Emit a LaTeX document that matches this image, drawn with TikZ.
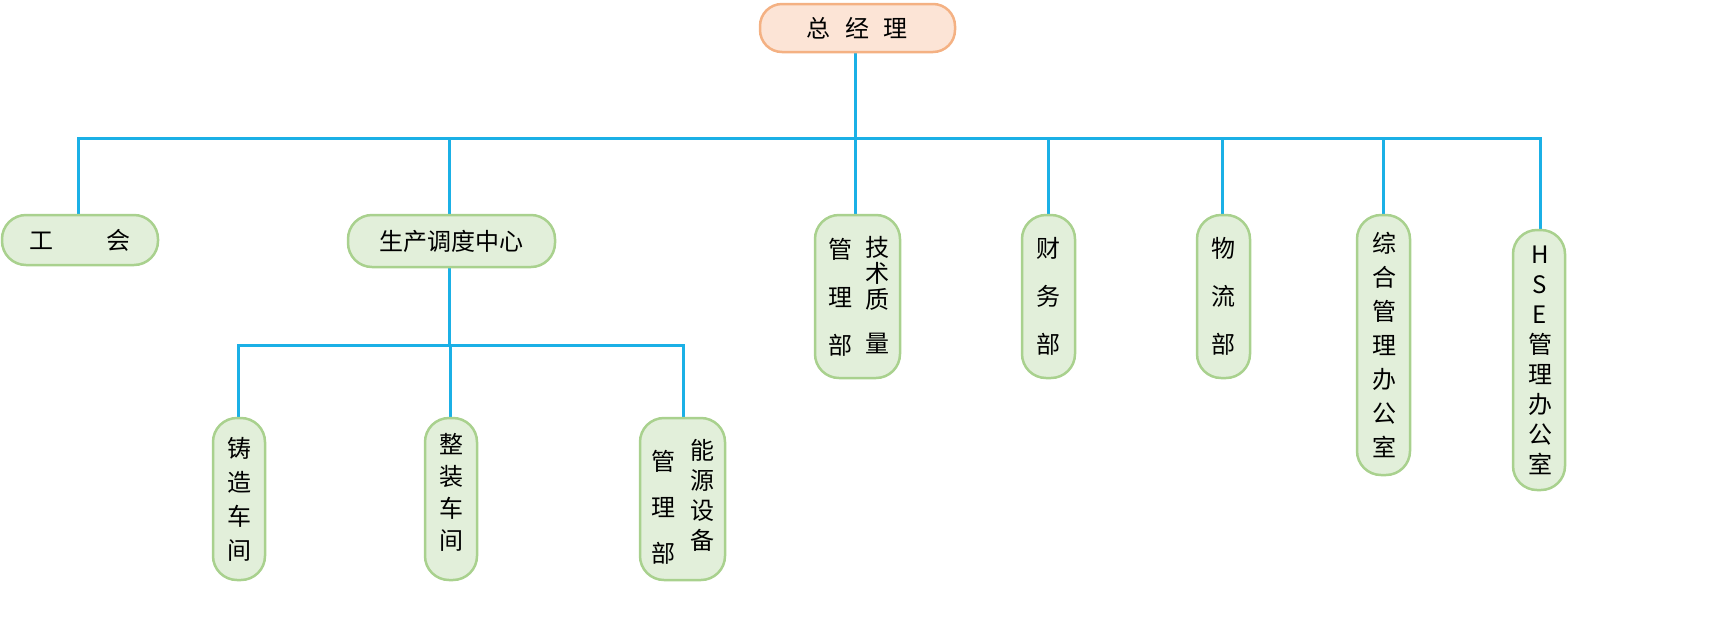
\documentclass[tikz,border=0pt]{standalone}
\usepackage{fontspec}
\newfontfamily\cjk{Noto Sans CJK SC}
\begin{document}
\begin{tikzpicture}[x=1pt,y=-1pt,
 box/.style={draw={rgb,255:red,169;green,209;blue,142},fill={rgb,255:red,226;green,239;blue,218},line width=2.5pt,rounded corners=24pt,inner sep=0},
 top/.style={draw={rgb,255:red,244;green,177;blue,131},fill={rgb,255:red,252;green,228;blue,214},line width=2.5pt,rounded corners=22pt},
 ln/.style={draw={rgb,255:red,27;green,176;blue,230},line width=3pt},
 txt/.style={font=\cjk\fontsize{24}{28}\selectfont,align=center,inner sep=0}]
\useasboundingbox (0,0) rectangle (1720,638);
% lines
\draw[ln] (855,52) -- (855,215);
\draw[ln] (78,215) -- (78,138) -- (1540,138) -- (1540,230);
\draw[ln] (449,138) -- (449,215);
\foreach \x in {1048,1222,1383} \draw[ln] (\x,138) -- (\x,215);
\draw[ln] (449,267) -- (449,345);
\draw[ln] (238,418) -- (238,345) -- (683,345) -- (683,418);
\draw[ln] (450,345) -- (450,418);
% top
\draw[top] (760,4) rectangle (955,52);
\node[txt] (gm) at (857,28) {总\hspace{0.6em}经\hspace{0.6em}理};
% level 1
\draw[box] (2,215) rectangle (158,265); \node[txt] (gh) at (80,240) {工\hspace{2.2em}会};
\draw[box] (348,215) rectangle (555,267); \node[txt] (sc) at (451,241) {生产调度中心};
\draw[box] (815,215) rectangle (900,378);
\node[txt] (js1) at (840,297) {管\\[20pt]理\\[20pt]部};
\node[txt] (js2) at (877,295) {技\\[-2pt]术\\[-2pt]质\\[16pt]量};
\draw[box] (1022,215) rectangle (1075,378); \node[txt] (cw) at (1048,296) {财\\[20pt]务\\[20pt]部};
\draw[box] (1197,215) rectangle (1250,378); \node[txt] (wl) at (1223,296) {物\\[20pt]流\\[20pt]部};
\draw[box] (1357,215) rectangle (1410,475); \node[txt] (zh) at (1384,345) {综\\[6pt]合\\[6pt]管\\[6pt]理\\[6pt]办\\[6pt]公\\[6pt]室};
\draw[box] (1513,230) rectangle (1565,490); \node[txt] (hse) at (1540,360) {H\\[2pt]S\\[2pt]E\\[2pt]管\\[2pt]理\\[2pt]办\\[2pt]公\\[2pt]室};
% level 2
\draw[box] (213,418) rectangle (265,580); \node[txt] (zz) at (239,499) {铸\\[6pt]造\\[6pt]车\\[6pt]间};
\draw[box] (425,418) rectangle (477,580); \node[txt] (zc) at (451,492) {整\\[4pt]装\\[4pt]车\\[4pt]间};
\draw[box] (640,418) rectangle (725,580);
\node[txt] (ny1) at (663,507) {管\\[18pt]理\\[18pt]部};
\node[txt] (ny2) at (702,495) {能\\[2pt]源\\[2pt]设\\[2pt]备};
\end{tikzpicture}
\end{document}
